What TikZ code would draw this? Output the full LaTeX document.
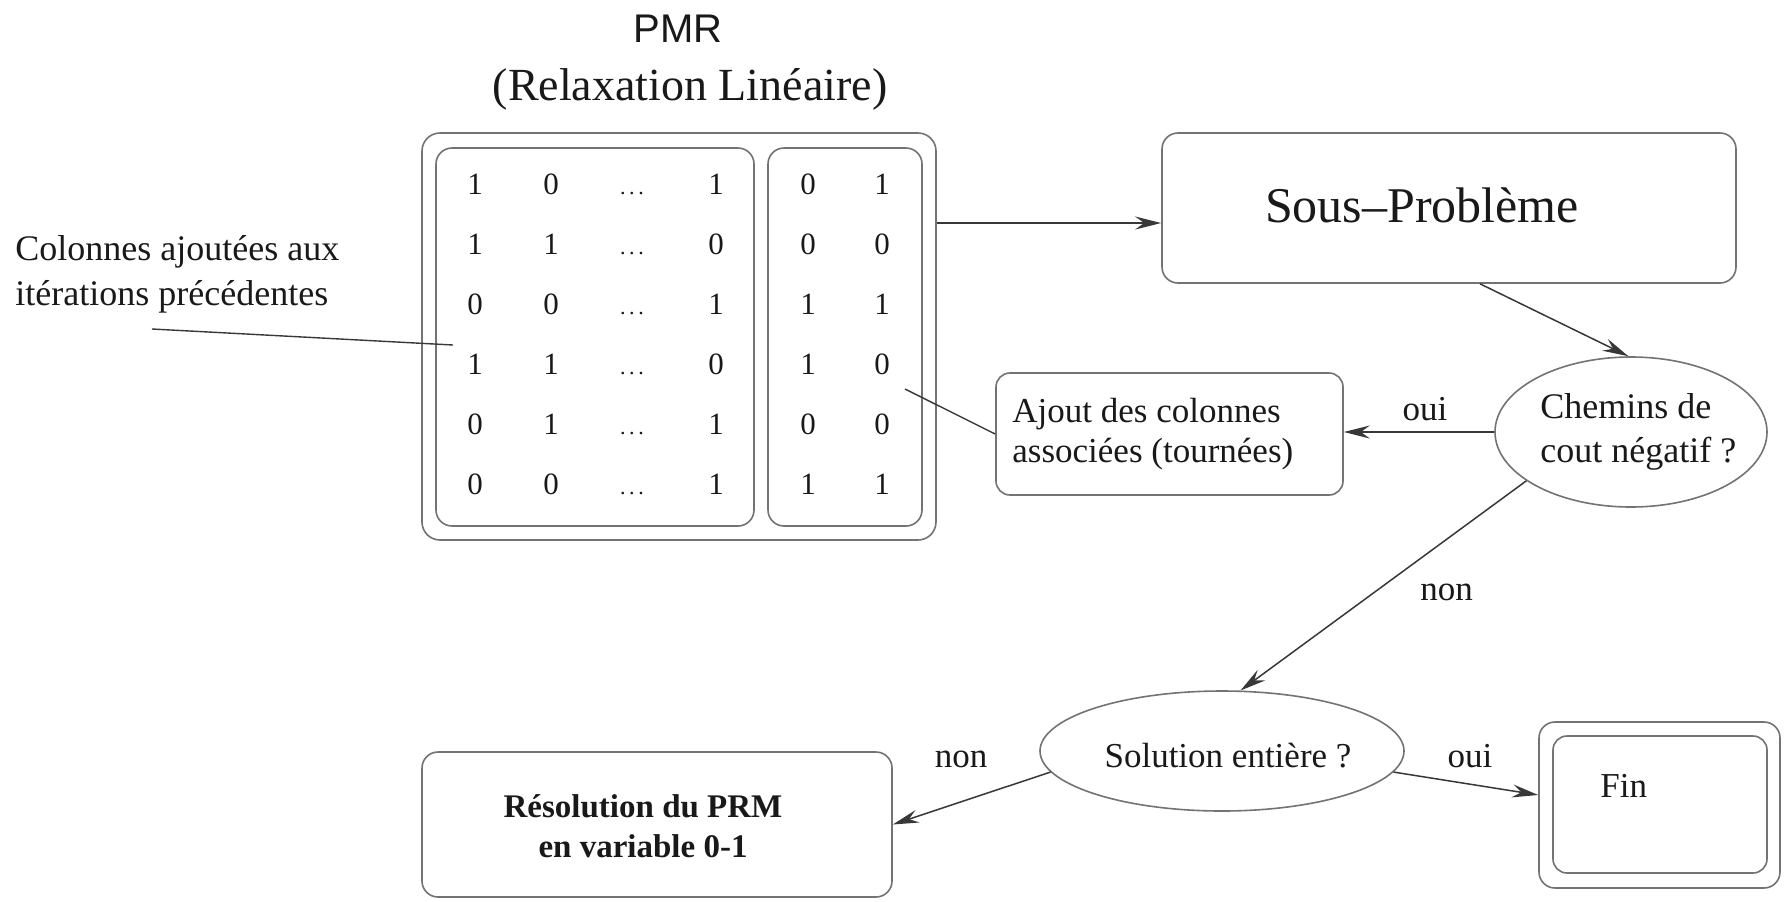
\documentclass[tikz,border=0pt]{standalone}
\usepackage{fontspec}
\setmainfont{Liberation Serif}
\newfontfamily\titlesans{Liberation Sans}
\usetikzlibrary{arrows.meta,shapes.geometric}

\definecolor{boxgray}{gray}{0.45}
\definecolor{linkgray}{gray}{0.22}
\definecolor{ink}{gray}{0.1}

\begin{document}
\begin{tikzpicture}[x=0.5pt,y=-0.5pt,
  box/.style={draw=boxgray, line width=0.8pt, rounded corners=8pt, inner sep=0pt},
  oval/.style={draw=boxgray, line width=0.8pt, ellipse, inner sep=0pt},
  link/.style={draw=linkgray, line width=0.75pt, -{Stealth[length=13pt,width=6.5pt,inset=4.5pt]}},
  leader/.style={draw=linkgray, line width=0.7pt},
  lbl/.style={font=\fontsize{17.5}{20}\selectfont, text=ink, inner sep=0pt},
  cell/.style={anchor=base, font=\fontsize{15.5}{17}\selectfont, text=ink, inner sep=0pt},
]
\fill[white] (0,0) rectangle (1785,901);
\useasboundingbox (0,0) rectangle (1785,901);

% --- master problem: title and column blocks
\node[font=\titlesans\fontsize{20}{24}\selectfont, text=ink, anchor=base] (ttl) at (678,42) {PMR};
\node[font=\fontsize{23}{27}\selectfont, text=ink, anchor=base] (sub) at (690,100) {(Relaxation Linéaire)};

\node[box, rounded corners=9pt, minimum width=257pt, minimum height=203.5pt] (pmr) at (679,336.5) {};
\node[box, minimum width=159pt, minimum height=189pt] (cols) at (595,337) {};
\node[box, minimum width=77pt, minimum height=189pt] (newcols) at (845,337) {};

\foreach \r/\a/\b/\c/\d/\e in {1/1/0/1/0/1, 2/1/1/0/0/0, 3/0/0/1/1/1, 4/1/1/0/1/0, 5/0/1/1/0/0, 6/0/0/1/1/1} {
  \pgfmathsetmacro\yb{194+60*(\r-1)}
  \node[cell] (m\r-1) at (475,\yb) {\a};
  \node[cell] (m\r-2) at (551,\yb) {\b};
  \node[cell, font=\fontsize{11}{13}\selectfont] (m\r-3) at (632,\yb) {.\,.\,.};
  \node[cell] (m\r-4) at (716,\yb) {\c};
  \node[cell] (m\r-5) at (808,\yb) {\d};
  \node[cell] (m\r-6) at (882,\yb) {\e};
}

% --- note on the previous columns (base anchor = last line)
\node[lbl, font=\fontsize{18}{22.5}\selectfont, align=left, anchor=base west] (note) at (15,305)
  {Colonnes ajoutées aux\\itérations précédentes};
\coordinate (noteend) at (152,329);
\coordinate (colspt) at (453,345);
\draw[leader] (noteend) -- (colspt);

% --- subproblem
\node[box, minimum width=287pt, minimum height=75pt] (sous) at (1449,208) {};
\node[font=\fontsize{25}{30}\selectfont, text=ink, anchor=base] (soust) at (1422,222) {Sous–Problème};

% --- negative reduced cost test
\node[oval, minimum width=136pt, minimum height=75pt] (chem) at (1631,432) {};
\node[lbl, align=left, anchor=base west, font=\fontsize{18}{22}\selectfont] (chemt) at (1540,462) {Chemins de\\cout négatif ?};

% --- new columns
\node[box, rounded corners=7pt, minimum width=173.5pt, minimum height=61pt] (ajout) at (1169.5,434) {};
\node[lbl, align=left, anchor=base west] (ajoutt) at (1012,462) {Ajout des colonnes\\associées (tournées)};
\coordinate (newcolpt) at (905,389);
\draw[leader] (ajout.west) -- (newcolpt);

% --- integrality test
\node[oval, minimum width=182pt, minimum height=60pt] (sol) at (1222,751) {};
\node[lbl, anchor=base] (solt) at (1228,767) {Solution entière ?};

% --- 0-1 resolution
\node[box, minimum width=235pt, minimum height=72.5pt] (res) at (657,824.5) {};
\node[lbl, font=\bfseries\fontsize{16.5}{20}\selectfont, align=center, anchor=base] (rest) at (643,857)
  {Résolution du PRM\\en variable 0-1};

% --- end
\node[box, rounded corners=8pt, minimum width=120.5pt, minimum height=83pt] (finout) at (1659.5,805) {};
\node[box, rounded corners=7pt, minimum width=107pt, minimum height=68.5pt] (finin) at (1660,804.5) {};
\node[lbl, anchor=base west] (fint) at (1600,797) {Fin};

% --- connectors
\draw[link, line width=1pt] ([yshift=-7.5pt]pmr.east |- sous.west) -- ([yshift=-7.5pt]sous.west);
\draw[link] ([xshift=15.5pt]sous.south) -- (chem.92);
\draw[link] (chem.west) -- (chem.west -| ajout.east);
\node[lbl, anchor=base] (oui1) at (1425,420) {oui};
\draw[link] (chem.205) -- (sol.73);
\node[lbl, anchor=base west] (non1) at (1420,600) {non};
\draw[link] (sol.187) -- (res.east);
\node[lbl, anchor=base] (non2) at (961,767) {non};
\draw[link] (sol.353) -- ([yshift=5pt]finout.west);
\node[lbl, anchor=base] (oui2) at (1470,767) {oui};
\end{tikzpicture}
\end{document}
